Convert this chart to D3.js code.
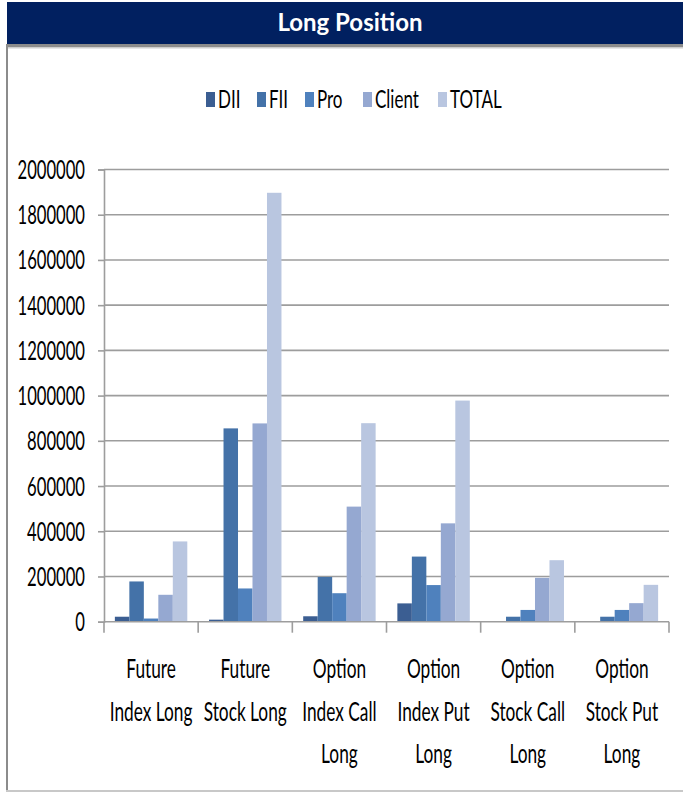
<!DOCTYPE html>
<html>
<head>
<meta charset="utf-8">
<script src="https://cdn.jsdelivr.net/npm/d3@7"></script>
<style>
  html, body { margin: 0; padding: 0; background: #ffffff; }
  svg { display: block; }
  text { font-family: Lato, "Open Sans", "Liberation Sans", sans-serif; fill: #000; }
</style>
</head>
<body>
<svg id="chart" width="683" height="793"></svg>
<script>
// Participant-wise long open interest
const categories = ["Future Index Long", "Future Stock Long", "Option Index Call Long",
                    "Option Index Put Long", "Option Stock Call Long", "Option Stock Put Long"];
const categoryLines = [["Future", "Index Long"], ["Future", "Stock Long"], ["Option", "Index Call", "Long"],
                       ["Option", "Index Put", "Long"], ["Option", "Stock Call", "Long"], ["Option", "Stock Put", "Long"]];
const seriesNames = ["DII", "FII", "Pro", "Client", "TOTAL"];
const dii    = [22000,    9000,   24000,  81000,      0,      0];
const fii    = [178000, 855000,  198000, 288000,  22000,  22000];
const pro    = [14000,  147000,  126000, 162000,  52000,  52000];
const client = [119000, 877000,  509000, 435000, 194000,  82000];
const total  = [355000, 1897000, 878000, 978000, 272000, 163000];
const yTicks = [0, 200000, 400000, 600000, 800000, 1000000, 1200000, 1400000, 1600000, 1800000, 2000000];
const seriesColors = ["#3b5e92", "#4472a8", "#4f81bd", "#95a8d1", "#b9c6e0"];

const seriesValues = [dii, fii, pro, client, total];

const svg = d3.select("#chart");
const W = 683, H = 793;

// Frame and title banner
svg.append("rect").attr("x", 0).attr("y", 0).attr("width", W).attr("height", H).attr("fill", "#fff");
svg.append("rect").attr("x", 7).attr("y", 44).attr("width", W - 7).attr("height", 3).attr("fill", "#8c8c8c");
svg.append("rect").attr("x", 7).attr("y", 47).attr("width", W - 7).attr("height", 1.5).attr("fill", "#cfcfcf");
svg.append("rect").attr("x", 6).attr("y", 44).attr("width", 2).attr("height", 748).attr("fill", "#8c8c8c");
svg.append("rect").attr("x", 6).attr("y", 790).attr("width", W - 6).attr("height", 2).attr("fill", "#c8c8c8");
svg.append("rect").attr("x", 7).attr("y", 2).attr("width", W - 7).attr("height", 42).attr("fill", "#012060");
svg.append("text").attr("x", 350).attr("y", 30.5).attr("text-anchor", "middle")
  .style("font-weight", "bold").style("font-size", "24px").style("fill", "#fff")
  .text("Long Position");

// Horizontally condensed text helper
function label(parent, x, y, str, size, sx, anchor) {
  const g = parent.append("g").attr("transform", `translate(${x},${y}) scale(${sx},1)`);
  g.append("text").attr("text-anchor", anchor || "middle").style("font-size", size + "px").text(str);
  return g;
}

const plot = { left: 104, right: 669, top: 169.5, bottom: 621.7 };

const x = d3.scaleBand().domain(categories).range([plot.left, plot.right]).padding(0);
const xs = d3.scaleBand().domain(seriesNames).range([0, x.bandwidth()])
  .paddingInner(0).paddingOuter(0.75);
const y = d3.scaleLinear().domain([0, 2000000]).range([plot.bottom, plot.top]);

// Gridlines
svg.append("g").selectAll("line").data(yTicks.filter(d => d > 0)).join("line")
  .attr("x1", plot.left).attr("x2", plot.right)
  .attr("y1", d => y(d)).attr("y2", d => y(d))
  .attr("stroke", "#9d9d9d").attr("stroke-width", 1.6);

// Bars
const groups = svg.append("g").selectAll("g").data(categories).join("g")
  .attr("transform", d => `translate(${x(d)},0)`);
groups.selectAll("rect")
  .data((c, i) => seriesNames.map((s, k) => ({ s, k, v: seriesValues[k][i] })))
  .join("rect")
  .attr("x", d => xs(d.s)).attr("width", xs.bandwidth())
  .attr("y", d => y(d.v)).attr("height", d => y(0) - y(d.v))
  .attr("fill", d => seriesColors[d.k]);

// Y axis
const yAxis = d3.axisLeft(y).tickValues(yTicks).tickFormat(d3.format("d")).tickSize(6).tickPadding(13);
const yg = svg.append("g").attr("transform", `translate(${plot.left},0)`).call(yAxis);
yg.selectAll("path, line").attr("stroke", "#9d9d9d").attr("stroke-width", 1.6);
yg.selectAll(".tick text").each(function (d) {
  const t = d3.select(this);
  const ty = y(d);
  t.remove();
  label(yg, -19, ty + 9.5, d3.format("d")(d), 26, 0.64, "end");
});

// X axis baseline and category dividers
const xg = svg.append("g");
xg.append("line").attr("x1", plot.left).attr("x2", plot.right)
  .attr("y1", y(0)).attr("y2", y(0)).attr("stroke", "#9d9d9d").attr("stroke-width", 1.6);
const edges = categories.map(c => x(c)).concat([x.range()[1]]);
xg.selectAll("line.div").data(edges).join("line").attr("class", "div")
  .attr("x1", d => d).attr("x2", d => d)
  .attr("y1", y(0)).attr("y2", y(0) + 11)
  .attr("stroke", "#9d9d9d").attr("stroke-width", 1.6);

categories.forEach((c, i) => {
  const cx = x(c) + x.bandwidth() / 2;
  categoryLines[i].forEach((ln, j) => {
    label(xg, cx, 678 + j * 42.5, ln, 27, 0.64, "middle");
  });
});

// Legend
const legendX = [206, 257, 305, 363, 438];
const lg = svg.append("g");
seriesNames.forEach((s, k) => {
  lg.append("rect").attr("x", legendX[k]).attr("y", 92).attr("width", 9).attr("height", 15)
    .attr("fill", seriesColors[k]);
  label(lg, legendX[k] + 12, 108, s, 25, 0.68, "start");
});
</script>
</body>
</html>
